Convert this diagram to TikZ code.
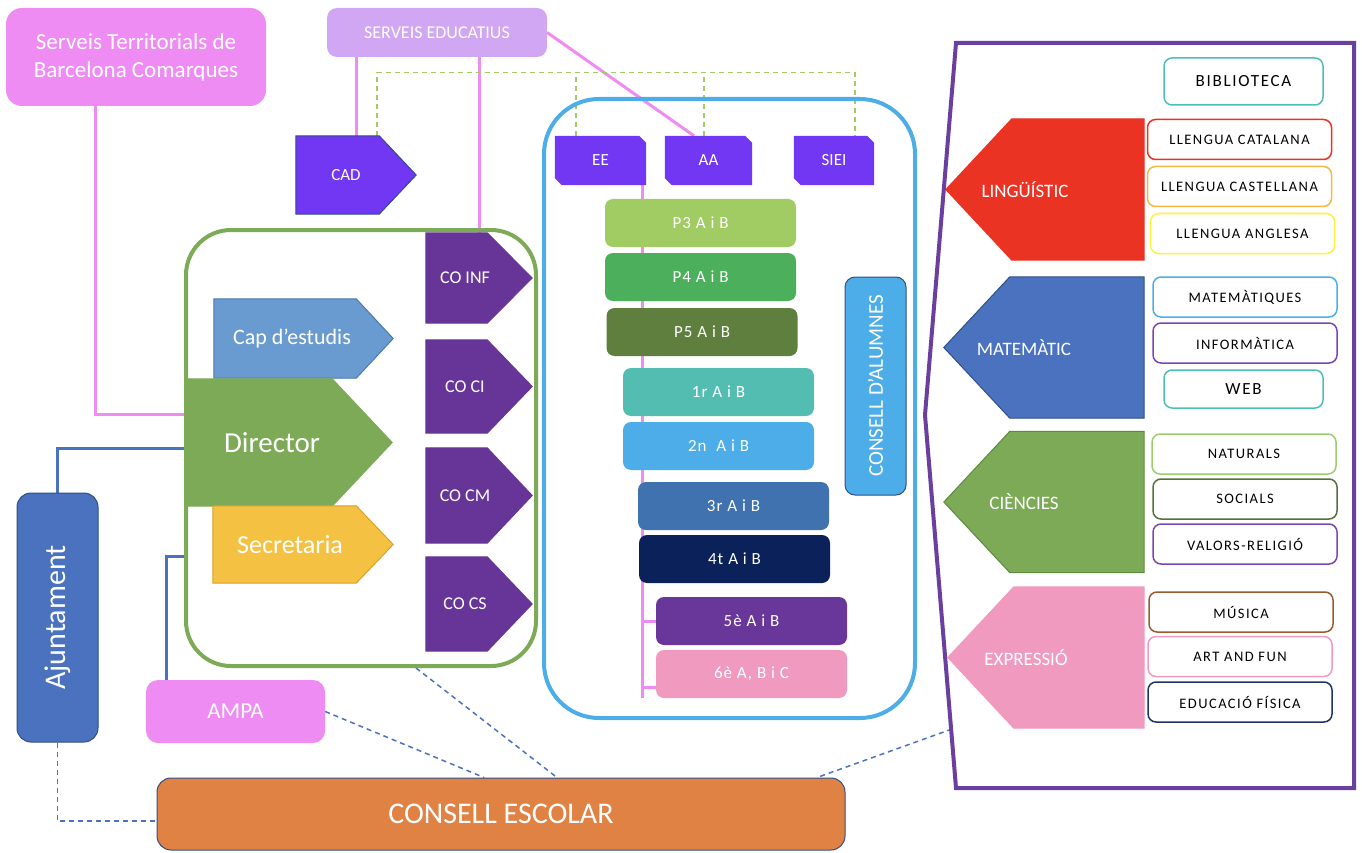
\documentclass[tikz,border=0pt]{standalone}
\usepackage{fontspec}
\setmainfont{Carlito}
\newfontfamily\subjfont[LetterSpace=10]{Carlito}
\newfontfamily\classfont[LetterSpace=6]{Carlito}
\usetikzlibrary{calc,backgrounds}
\definecolor{stpink}{HTML}{EF8CF3}
\definecolor{sepurple}{HTML}{D1A6F3}
\definecolor{cviolet}{HTML}{7137F3}
\definecolor{copurple}{HTML}{673597}
\definecolor{capblue}{HTML}{6A9BD0}
\definecolor{capedge}{HTML}{4A78AE}
\definecolor{dirgreen}{HTML}{7DAA56}
\definecolor{secyellow}{HTML}{F5C142}
\definecolor{secedge}{HTML}{D9A12A}
\definecolor{ajblue}{HTML}{4A72BE}
\definecolor{ajedge}{HTML}{2F4F85}
\definecolor{ceorange}{HTML}{E08243}
\definecolor{skyblue}{HTML}{4DADE8}
\definecolor{cp3}{HTML}{A1CC63}
\definecolor{cp4}{HTML}{4BAF5B}
\definecolor{cp5}{HTML}{5E7F3E}
\definecolor{cc1}{HTML}{54BDB2}
\definecolor{cc3}{HTML}{3F72AF}
\definecolor{cc4}{HTML}{0B215A}
\definecolor{cc5}{HTML}{693699}
\definecolor{cc6}{HTML}{F09AC0}
\definecolor{linred}{HTML}{EB3323}
\definecolor{framepurple}{HTML}{6B3FA0}
\definecolor{cteal}{HTML}{4CC0B5}
\definecolor{orangeb}{HTML}{F5B942}
\definecolor{yellowb}{HTML}{FFF23A}
\definecolor{infpurple}{HTML}{7A45B5}
\definecolor{natgreen}{HTML}{9DCB6E}
\definecolor{socgreen}{HTML}{56703F}
\definecolor{cbrown}{HTML}{9A5B2F}
\definecolor{navy}{HTML}{1F3264}
\definecolor{ciedge}{HTML}{5E8A3E}
\tikzset{
  rbox/.style={rectangle, rounded corners=10pt, text=white, inner sep=0pt},
  pent/.style={rectangle, inner sep=0pt, text=white},
  klass/.style={rectangle, rounded corners=8pt, minimum width=191pt, minimum height=48pt,
    text=white, inner sep=0pt, font=\classfont\fontsize{17}{20}\selectfont},
  subj/.style={rectangle, rounded corners=8pt, line width=1.5pt, fill=white, inner sep=0pt,
    minimum width=184pt, minimum height=40pt, font=\subjfont\fontsize{14.5}{16}\selectfont},
  pinkline/.style={draw=stpink, line width=3pt},
  blueline/.style={draw=ajblue, line width=3pt},
  gdash/.style={draw=cp3, line width=1.2pt, dash pattern=on 5pt off 4pt},
  bdash/.style={draw=ajblue, line width=1.5pt, dash pattern=on 5pt off 4pt}
}
\begin{document}
\begin{tikzpicture}[x=1pt,y=-1pt]
  \useasboundingbox (0,0) rectangle (1362,853);

  \node[rbox, fill=stpink, rounded corners=16pt, minimum width=260pt, minimum height=98pt,
    align=center, font=\fontsize{23}{28}\selectfont] (st) at (136,57)
    {Serveis Territorials de\\Barcelona Comarques};
  \node[rbox, fill=sepurple, minimum width=220pt, minimum height=49pt,
    font=\fontsize{18}{21}\selectfont] (se) at (437,32.5) {SERVEIS EDUCATIUS};
  \node[pent, minimum width=120pt, minimum height=78pt,
    font=\fontsize{17}{20}\selectfont] (cad) at (356,175) {CAD\hspace*{20pt}};

  \node[draw=dirgreen, line width=4pt, rounded corners=45pt, minimum width=350pt,
    minimum height=436pt] (equip) at (361,448) {};
  \node[pent, minimum width=179pt, minimum height=79pt,
    font=\fontsize{22}{26}\selectfont] (cap) at (303.5,338.5) {Cap d’estudis\hspace*{23pt}};
  \node[pent, minimum width=207pt, minimum height=127pt,
    font=\fontsize{29}{33}\selectfont] (dir) at (288.5,442.5) {Director\hspace*{33pt}};
  \node[pent, minimum width=180pt, minimum height=77pt,
    font=\fontsize{26}{30}\selectfont] (sec) at (303,544.5) {Secretaria\hspace*{26pt}};
  \foreach \n/\y/\h/\txt in {coinf/278/90/CO INF, coci/386.5/93/CO CI,
      cocm/495.5/95/CO CM, cocs/604/94/CO CS}
    \node[pent, minimum width=106pt, minimum height=\h pt,
      font=\fontsize{18}{21}\selectfont] (\n) at (479,\y) {\txt\hspace*{28pt}};

  \node[rbox, fill=ajblue, draw=ajedge, line width=1pt, rounded corners=14pt, rotate=90,
    minimum width=249pt, minimum height=81pt, font=\fontsize{30}{34}\selectfont]
    (ajunt) at (57.5,617.5) {Ajuntament};
  \node[rbox, fill=stpink, rounded corners=12pt, minimum width=179pt, minimum height=63pt,
    font=\fontsize{23}{26}\selectfont] (ampa) at (235.5,711.5) {AMPA};
  \node[rbox, fill=ceorange, draw=ajedge, line width=1pt, rounded corners=14pt,
    minimum width=688pt, minimum height=72pt, font=\fontsize{30}{34}\selectfont]
    (consell) at (501,814) {CONSELL ESCOLAR};

  \node[draw=skyblue, line width=4pt, rounded corners=55pt, minimum width=371pt,
    minimum height=619pt] (aula) at (729.5,408.5) {};
  \foreach \n/\x/\w/\txt in {ee/600.5/91/EE, aa/708.5/87/AA, siei/834/80/SIEI}
    \node[pent, minimum width=\w pt, minimum height=49pt,
      font=\fontsize{17}{20}\selectfont] (\n) at (\x,160.5) {\txt};
  \foreach \n/\x/\y/\c/\txt in {p3/700.5/223/cp3/P3 A i B, p4/700.5/277/cp4/P4 A i B,
      p5/702/332/cp5/P5 A i B, c1/718.5/392/cc1/1r A i B, c2/718.5/446/skyblue/2n~ A i B,
      c3/733.5/506/cc3/3r A i B, c4/734.5/559/cc4/4t A i B, c5/751.5/621/cc5/5è A i B,
      c6/751.5/674/cc6/{6è A, B i C}}
    \node[klass, fill=\c] (\n) at (\x,\y) {\txt};
  \node[rbox, fill=skyblue, draw=ajedge, line width=1pt, rotate=90, minimum width=218pt,
    minimum height=61pt, font=\fontsize{21}{24}\selectfont] (alum) at (875.5,386)
    {CONSELL D’ALUMNES};

  \draw[framepurple, line width=4pt] (956,43) -- (1354,43) -- (1354,788) -- (956,788)
    -- (925,415) -- cycle;
  \coordinate (frameL) at (952,729);
  \foreach \n/\x/\y/\w/\txt in {lin/1045/189.5/198/LINGÜÍSTIC, mat/1044/347.5/200/MATEMÀTIC,
      cie/1044/502/200/CIÈNCIES, exp/1046/657.5/196/EXPRESSIÓ}
    \node[pent, minimum width=\w pt, minimum height=141pt,
      font=\fontsize{19}{22}\selectfont] (\n) at (\x,\y) {\txt\hspace*{40pt}};
  \node[subj, draw=cteal, minimum width=159pt, minimum height=47pt,
    font=\subjfont\fontsize{17}{20}\selectfont] (bib) at (1243.5,81.5) {BIBLIOTECA};
  \foreach \n/\x/\y/\c/\txt in {cat/1239.5/139.5/linred/LLENGUA CATALANA,
      cas/1239.5/186.5/orangeb/LLENGUA CASTELLANA, ang/1242.5/233.5/yellowb/LLENGUA ANGLESA,
      mtq/1245/297/skyblue/MATEMÀTIQUES, inf/1245/343/infpurple/INFORMÀTICA,
      nat/1244/454/natgreen/NATURALS, soc/1245/499/socgreen/SOCIALS,
      val/1245/544/infpurple/VALORS-RELIGIÓ, mus/1241/612/cbrown/MÚSICA,
      art/1240/656.5/cc6/ART AND FUN, edu/1240/702/navy/EDUCACIÓ FÍSICA}
    \node[subj, draw=\c] (\n) at (\x,\y) {\txt};
  \node[subj, draw=cteal, minimum width=159pt, minimum height=38pt,
    font=\subjfont\fontsize{17}{20}\selectfont] (web) at (1243.5,389) {WEB};

  \begin{scope}[on background layer]
    \draw[pinkline] ([xshift=-41pt]st.south) |- ([yshift=-36pt]dir.north west);
    \draw[pinkline] (se.south -| cad.north) -- (cad.north);
    \draw[pinkline] (se.south -| coinf.north) -- (coinf.north);
    \draw[pinkline] (se.east) -- ([xshift=-14.5pt]aa.north);
    \coordinate (spine) at ([xshift=41.5pt]ee.south);
    \coordinate (t6) at ([yshift=-13pt]c6.west);
    \draw[pinkline] (spine) -- (spine |- c6.south);
    \draw[pinkline] (spine |- c5.west) -- (c5.west);
    \draw[pinkline] (spine |- t6) -- (t6);
    \draw[gdash] ([xshift=21pt]cad.north) -- ++(0,-63) -| ([xshift=21pt]siei.north);
    \foreach \n/\s in {ee/-24.5,aa/-4.5}
      \draw[gdash] ([xshift=\s pt]\n.north) -- ++(0,-63);
    \draw[blueline] (ajunt.east) |- ([yshift=-5.5pt]dir.west);
    \draw[blueline] ([xshift=-69.5pt]ampa.north) |- ([yshift=-108pt]equip.west);
    \draw[bdash] (ajunt.west) |- ([yshift=-7pt]consell.west);
    \draw[bdash] (ampa.east) -- ([xshift=-17pt]consell.north);
    \draw[bdash] ([xshift=55pt]equip.south) -- ([xshift=56pt]consell.north);
    \draw[bdash] (frameL) -- ([xshift=316pt]consell.north);

    \foreach \n/\f/\d/\tip in {cad/cviolet/ajedge/37, cap/capblue/capedge/37,
        dir/dirgreen/dirgreen/60, sec/secyellow/secedge/37, coinf/copurple/copurple/45,
        coci/copurple/copurple/45, cocm/copurple/copurple/45, cocs/copurple/copurple/45}
      \filldraw[fill=\f, draw=\d, line width=1pt] (\n.north west)
        -- ($(\n.north east)+(-\tip,0)$) -- (\n.east)
        -- ($(\n.south east)+(-\tip,0)$) -- (\n.south west) -- cycle;
    \foreach \n/\f/\d in {lin/linred/linred, mat/ajblue/ajedge, cie/dirgreen/ciedge,
        exp/cc6/cc6}
      \filldraw[fill=\f, draw=\d, line width=1pt] (\n.west)
        -- ($(\n.north west)+(66,0)$) -- (\n.north east) -- (\n.south east)
        -- ($(\n.south west)+(66,0)$) -- cycle;
    \foreach \n in {ee,aa,siei}
      \fill[cviolet] (\n.north west) -- ($(\n.north east)+(-7,0)$)
        -- ($(\n.north east)+(0,7)$) -- (\n.south east) -- ($(\n.south west)+(7,0)$)
        -- ($(\n.south west)+(0,-7)$) -- cycle;
  \end{scope}
\end{tikzpicture}
\end{document}
